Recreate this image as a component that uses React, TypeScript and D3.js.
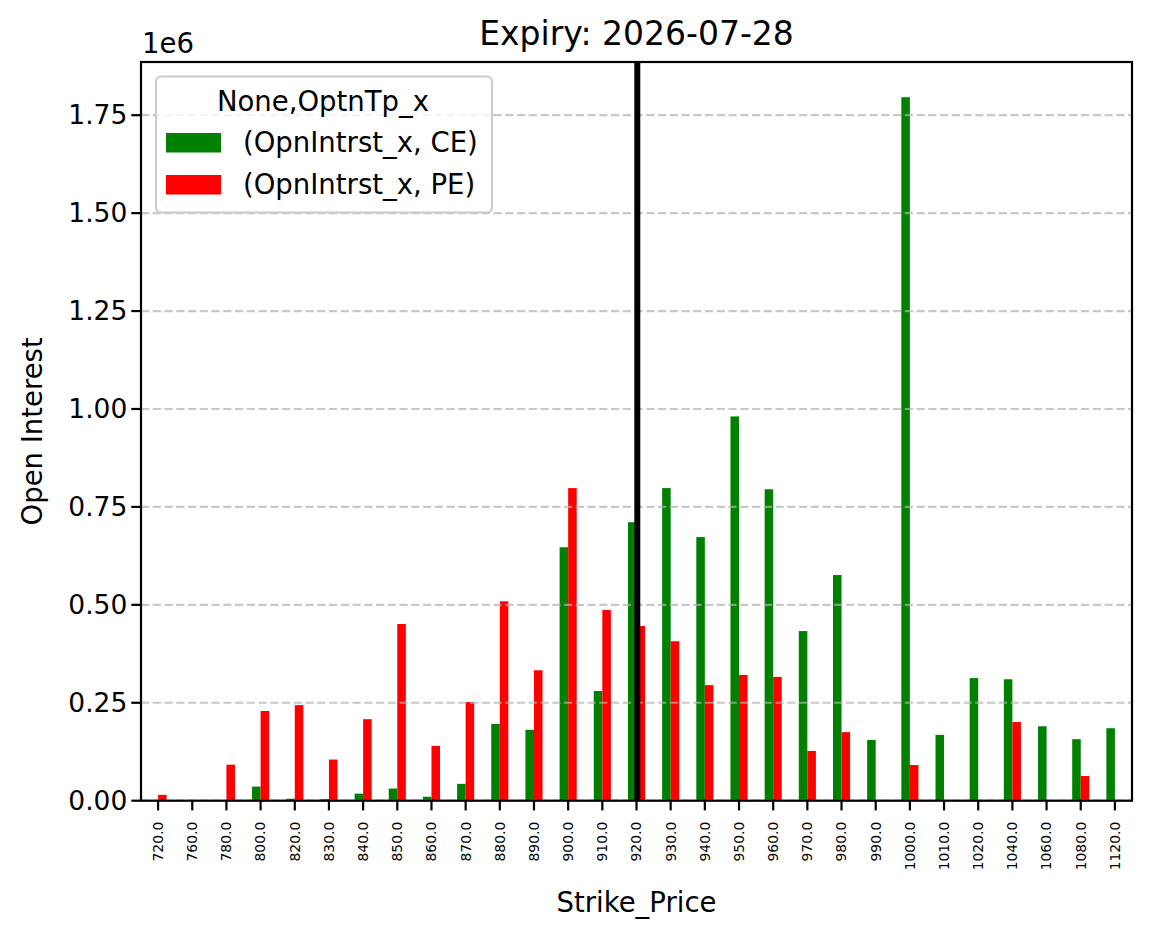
import React from "react";
import * as d3 from "d3";

// Strike prices (category axis) and open interest per option type
const strikes = [
  "720.0", "760.0", "780.0", "800.0", "820.0", "830.0", "840.0", "850.0", "860.0", "870.0",
  "880.0", "890.0", "900.0", "910.0", "920.0", "930.0", "940.0", "950.0", "960.0", "970.0",
  "980.0", "990.0", "1000.0", "1010.0", "1020.0", "1040.0", "1060.0", "1080.0", "1120.0",
];
const ceOI = [
  0, 0, 0, 36000, 5000, 4000, 18000, 31000, 10000, 43000,
  196000, 181000, 647000, 280000, 711000, 798000, 673000, 981000, 795000, 433000,
  576000, 155000, 1796000, 168000, 313000, 310000, 190000, 157000, 185000,
];
const peOI = [
  15000, 0, 92000, 229000, 244000, 105000, 208000, 451000, 140000, 252000,
  509000, 333000, 798000, 487000, 446000, 407000, 295000, 321000, 316000, 127000,
  175000, 0, 91000, 0, 0, 201000, 0, 63000, 0,
];
const yTicks = [0, 250000, 500000, 750000, 1000000, 1250000, 1500000, 1750000];
const spotStrike = "920.0";
const seriesNames = ["(OpnIntrst_x, CE)", "(OpnIntrst_x, PE)"];
const seriesColors = ["#008000", "#ff0000"];

const W = 1152;
const H = 939;
const M = { left: 141, right: 1132, top: 62, bottom: 800.7 };
const FONT = "DejaVu Sans, sans-serif";

export default function App() {
  const x = d3.scaleBand<string>().domain(strikes).range([M.left, M.right]).padding(0);
  const step = x.step();
  const barW = step * 0.25;
  const cx = (s: string) => (x(s) as number) + step / 2;

  const yMax = d3.max([...ceOI, ...peOI]) as number;
  const y = d3.scaleLinear().domain([0, yMax * 1.05]).range([M.bottom, M.top]);

  const tickLen = 9.7;
  const axisW = 2.2;

  return (
    <svg
      width={W}
      height={H}
      style={{ position: "absolute", left: 0, top: 0, background: "#fff" }}
      fontFamily={FONT}
    >
      <rect x={0} y={0} width={W} height={H} fill="#fff" />

      {/* bars */}
      {strikes.map((s, i) => (
        <g key={s}>
          <rect x={cx(s) - barW} y={y(ceOI[i])} width={barW} height={y(0) - y(ceOI[i])} fill={seriesColors[0]} />
          <rect x={cx(s)} y={y(peOI[i])} width={barW} height={y(0) - y(peOI[i])} fill={seriesColors[1]} />
        </g>
      ))}

      {/* horizontal grid */}
      {yTicks.map((t) => (
        <line
          key={"g" + t}
          x1={M.left}
          x2={M.right}
          y1={y(t)}
          y2={y(t)}
          stroke="#b0b0b0"
          strokeOpacity={0.7}
          strokeWidth={2.2}
          strokeDasharray="8.2 3.55"
        />
      ))}

      {/* spot strike marker */}
      <line x1={cx(spotStrike) + 0.8} x2={cx(spotStrike) + 0.8} y1={M.top} y2={M.bottom} stroke="#000" strokeWidth={6} />

      {/* frame */}
      <rect
        x={M.left}
        y={M.top}
        width={M.right - M.left}
        height={M.bottom - M.top}
        fill="none"
        stroke="#000"
        strokeWidth={axisW}
      />

      {/* y axis */}
      {yTicks.map((t) => (
        <g key={"y" + t}>
          <line x1={M.left - tickLen} x2={M.left} y1={y(t)} y2={y(t)} stroke="#000" strokeWidth={axisW} />
          <text x={M.left - tickLen - 4} y={y(t)} dy="0.35em" textAnchor="end" fontSize={26.5} fill="#000">
            {(t / 1e6).toFixed(2)}
          </text>
        </g>
      ))}
      <text x={M.left + 1} y={53} fontSize={27.5} fill="#000">1e6</text>

      {/* x axis */}
      {strikes.map((s) => (
        <g key={"x" + s}>
          <line x1={cx(s)} x2={cx(s)} y1={M.bottom} y2={M.bottom + tickLen} stroke="#000" strokeWidth={axisW} />
          <text
            transform={`translate(${cx(s)},${M.bottom + 21}) rotate(-90)`}
            dy="0.35em"
            textAnchor="end"
            fontSize={13.9}
            fill="#000"
          >
            {s}
          </text>
        </g>
      ))}

      {/* labels */}
      <text x={(M.left + M.right) / 2} y={45} textAnchor="middle" fontSize={33} fill="#000">
        Expiry: 2026-07-28
      </text>
      <text x={(M.left + M.right) / 2} y={912} textAnchor="middle" fontSize={27.5} fill="#000">
        Strike_Price
      </text>
      <text
        transform={`translate(42,${(M.top + M.bottom) / 2}) rotate(-90)`}
        textAnchor="middle"
        fontSize={27.5}
        fill="#000"
      >
        Open Interest
      </text>

      {/* legend */}
      <g>
        <rect x={156} y={76.5} width={336} height={136} rx={5} fill="#fff" fillOpacity={0.8} stroke="#cccccc" strokeWidth={2.2} />
        <text x={323} y={110.5} textAnchor="middle" fontSize={27.5} fill="#000">None,OptnTp_x</text>
        {seriesNames.map((n, i) => (
          <g key={n}>
            <rect x={166} y={133 + i * 42} width={55} height={19.5} fill={seriesColors[i]} />
            <text x={243} y={152 + i * 42} fontSize={27.5} fill="#000">{n}</text>
          </g>
        ))}
      </g>
    </svg>
  );
}
